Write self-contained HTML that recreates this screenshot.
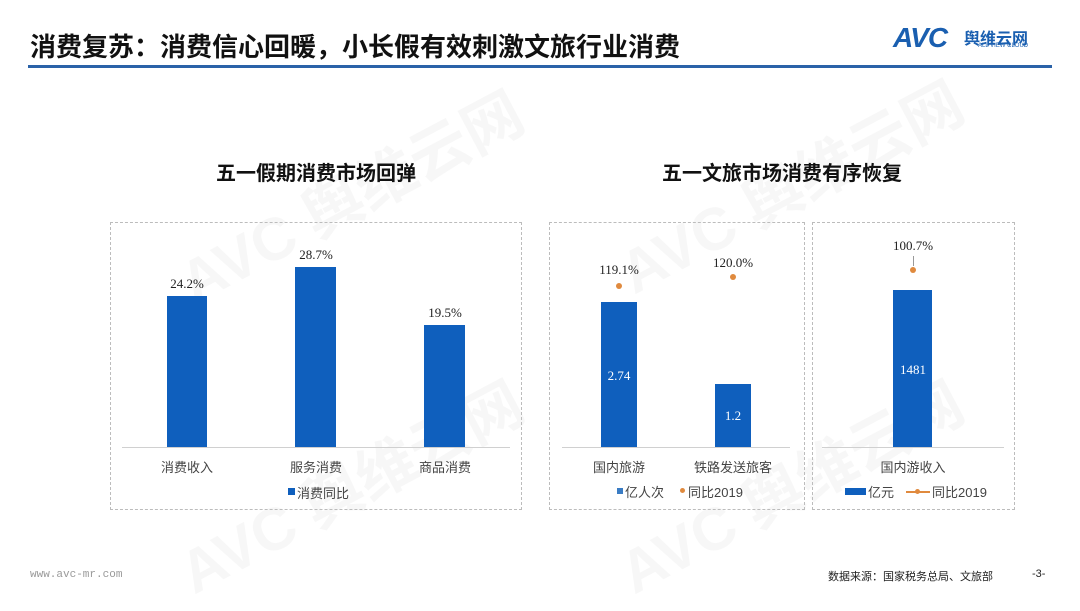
<!DOCTYPE html>
<html><head><meta charset="utf-8"><style>
body{margin:0;width:1080px;height:608px;background:#fff;position:relative;overflow:hidden;font-family:"Liberation Sans","Noto Sans CJK SC",sans-serif}
.a{position:absolute;white-space:nowrap}
.box{position:absolute;border:1px dashed #bcbcbc}
.bar{position:absolute;background:#0f5fbd}
.v{position:absolute;font-family:"Liberation Serif","Noto Serif CJK SC",serif;font-size:13px;color:#222;transform:translateX(-50%);white-space:nowrap}
.c{position:absolute;font-size:13px;color:#444;transform:translateX(-50%);white-space:nowrap}
.t{position:absolute;font-size:20px;font-weight:bold;color:#111;transform:translateX(-50%);white-space:nowrap}
.ax{position:absolute;height:1px;background:#d0d0d0}
.dot{position:absolute;width:6px;height:6px;border-radius:50%;background:#e08a3e}
.wm{position:absolute;color:rgba(0,0,0,0.03);font-weight:bold;font-size:60px;transform:rotate(-28deg);white-space:nowrap}
</style></head><body>
<div class="wm" style="left:160px;top:150px">AVC 舆维云网</div>
<div class="wm" style="left:600px;top:140px">AVC 舆维云网</div>
<div class="wm" style="left:160px;top:440px">AVC 舆维云网</div>
<div class="wm" style="left:600px;top:440px">AVC 舆维云网</div>

<div class="a" style="left:30px;top:27px;font-size:26px;font-weight:bold;color:#111">消费复苏：消费信心回暖，小长假有效刺激文旅行业消费</div>
<div class="a" style="left:893px;top:22px;font-size:28px;font-weight:bold;color:#1a5fb0;font-style:italic;letter-spacing:-1px">AVC</div>
<div class="a" style="left:964px;top:25px;font-size:16px;font-weight:bold;color:#1a5fb0">舆维云网</div>
<div class="a" style="left:978px;top:43px;font-size:6px;color:#1a5fb0">ALL VIEW CLOUD</div>
<div class="a" style="left:28px;top:65px;width:1024px;height:3px;background:#2a62a8"></div>

<div class="t" style="left:316px;top:157px">五一假期消费市场回弹</div>
<div class="t" style="left:782px;top:157px">五一文旅市场消费有序恢复</div>

<div class="box" style="left:110px;top:222px;width:410px;height:286px"></div>
<div class="ax" style="left:122px;top:447px;width:388px"></div>
<div class="bar" style="left:167px;top:296px;width:40px;height:151px"></div>
<div class="bar" style="left:295px;top:267px;width:41px;height:180px"></div>
<div class="bar" style="left:424px;top:325px;width:41px;height:122px"></div>
<div class="v" style="left:187px;top:276px">24.2%</div>
<div class="v" style="left:316px;top:247px">28.7%</div>
<div class="v" style="left:445px;top:305px">19.5%</div>
<div class="c" style="left:187px;top:457px">消费收入</div>
<div class="c" style="left:316px;top:457px">服务消费</div>
<div class="c" style="left:445px;top:457px">商品消费</div>
<div class="a" style="left:288px;top:488px;width:7px;height:7px;background:#0f5fbd"></div>
<div class="a" style="left:297px;top:483px;font-size:13px;color:#444">消费同比</div>

<div class="box" style="left:549px;top:222px;width:254px;height:286px"></div>
<div class="ax" style="left:562px;top:447px;width:228px"></div>
<div class="bar" style="left:601px;top:302px;width:36px;height:145px"></div>
<div class="bar" style="left:715px;top:384px;width:36px;height:63px"></div>
<div class="dot" style="left:616px;top:283px"></div>
<div class="dot" style="left:730px;top:274px"></div>
<div class="v" style="left:619px;top:262px">119.1%</div>
<div class="v" style="left:733px;top:255px">120.0%</div>
<div class="v" style="left:619px;top:368px;color:#fff">2.74</div>
<div class="v" style="left:733px;top:408px;color:#fff">1.2</div>
<div class="c" style="left:619px;top:457px">国内旅游</div>
<div class="c" style="left:733px;top:457px">铁路发送旅客</div>
<div class="a" style="left:617px;top:488px;width:6px;height:6px;background:#3a7cc4"></div>
<div class="a" style="left:625px;top:482px;font-size:13px;color:#444">亿人次</div>
<div class="dot" style="left:680px;top:488px;width:5px;height:5px"></div>
<div class="a" style="left:688px;top:482px;font-size:13px;color:#444">同比2019</div>

<div class="box" style="left:812px;top:222px;width:201px;height:286px"></div>
<div class="ax" style="left:822px;top:447px;width:182px"></div>
<div class="bar" style="left:893px;top:290px;width:39px;height:157px"></div>
<div class="dot" style="left:910px;top:267px"></div>
<div class="a" style="left:913px;top:256px;width:1px;height:10px;background:#999"></div>
<div class="v" style="left:913px;top:238px">100.7%</div>
<div class="v" style="left:913px;top:362px;color:#fff">1481</div>
<div class="c" style="left:913px;top:457px">国内游收入</div>
<div class="a" style="left:845px;top:488px;width:21px;height:7px;background:#0f5fbd"></div>
<div class="a" style="left:868px;top:482px;font-size:13px;color:#444">亿元</div>
<div class="a" style="left:906px;top:491px;width:24px;height:2px;background:#e08a3e"></div>
<div class="dot" style="left:915px;top:489px;width:5px;height:5px"></div>
<div class="a" style="left:932px;top:482px;font-size:13px;color:#444">同比2019</div>

<div class="a" style="left:30px;top:569px;font-size:11px;color:#999;font-family:'Liberation Mono',monospace">www.avc-mr.com</div>
<div class="a" style="left:828px;top:568px;font-size:11px;color:#222">数据来源：国家税务总局、文旅部</div>
<div class="a" style="left:1032px;top:568px;font-size:11px;color:#222">-3-</div>
</body></html>
